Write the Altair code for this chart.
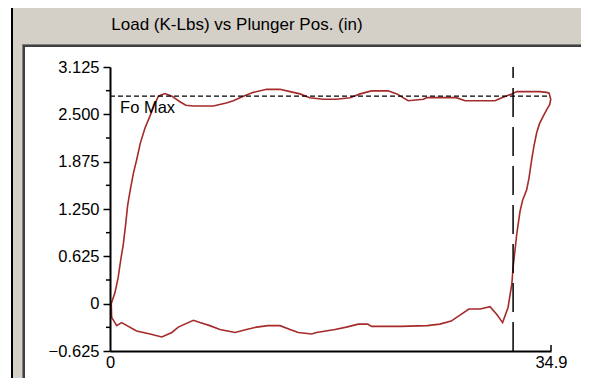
import altair as alt
import pandas as pd

# ---- data ----
title_text = ["Load (K-Lbs) vs Plunger Pos. (in)"]
pos = [0.10, 0.40, 0.65, 0.85, 1.05, 1.22, 1.40, 1.60, 1.85, 2.11, 2.40, 2.77, 3.17, 3.50,
       3.83, 4.35, 4.90, 5.50, 6.00, 6.60, 7.12, 8.18, 9.20, 9.76, 10.55, 11.34, 12.40,
       13.45, 14.25, 15.04, 15.80, 16.90, 17.90, 19.00, 19.80, 20.70, 21.40, 22.00, 22.70,
       23.60, 24.80, 25.06, 27.40, 28.10, 30.47, 31.00, 31.80, 32.20, 34.00, 34.55, 34.75,
       34.88, 34.80, 34.55, 34.30, 34.00, 33.77, 33.55, 33.37, 33.15, 32.97, 32.66, 32.45,
       32.20, 31.90, 31.80, 31.50, 31.07, 30.60, 30.07, 29.30, 28.40, 27.00, 26.10, 25.10,
       23.00, 20.70, 20.40, 19.65, 18.70, 17.80, 16.35, 15.96, 14.90, 14.25, 13.45, 12.50,
       11.60, 10.80, 9.90, 8.70, 7.90, 7.12, 6.60, 5.40, 4.90, 4.10, 3.17, 2.10, 0.92,
       0.53, 0.13, 0.10]
load = [0.00, 0.15, 0.35, 0.58, 0.78, 1.02, 1.30, 1.50, 1.72, 1.90, 2.12, 2.32, 2.48, 2.62,
        2.74, 2.775, 2.74, 2.67, 2.62, 2.61, 2.61, 2.61, 2.65, 2.68, 2.74, 2.79, 2.83,
        2.83, 2.80, 2.77, 2.72, 2.70, 2.70, 2.72, 2.77, 2.81, 2.81, 2.81, 2.77,
        2.68, 2.70, 2.72, 2.72, 2.68, 2.68, 2.72, 2.77, 2.80, 2.80, 2.79, 2.78,
        2.70, 2.63, 2.56, 2.48, 2.38, 2.26, 2.08, 1.90, 1.65, 1.50, 1.37, 1.22,
        0.93, 0.48, 0.26, -0.05, -0.25, -0.14, -0.04, -0.07, -0.07, -0.23, -0.27, -0.29,
        -0.30, -0.30, -0.27, -0.27, -0.31, -0.34, -0.38, -0.40, -0.38, -0.34, -0.29, -0.29,
        -0.31, -0.34, -0.38, -0.34, -0.29, -0.25, -0.22, -0.31, -0.38, -0.44, -0.40, -0.36, -0.25,
        -0.29, -0.18, 0.00]
fo_max = [2.74]
fo_max_end = [34.7]
marker_pos = [31.9]
y_major = [-0.625, 0, 0.625, 1.25, 1.875, 2.5, 3.125]
y_minor = [-0.3125, 0.3125, 0.9375, 1.5625, 2.1875, 2.8125]
x_ticks = [0, 34.9]
x_domain = [0, 34.9]
y_domain = [-0.625, 3.125]

W, H = 441, 284
FONT = "Liberation Sans"
FS = 16.5
RED = "#A52A2A"

curve_df = pd.DataFrame({"pos": pos, "load": load, "i": range(len(pos))})
one = pd.DataFrame({"k": [0]})

xs = alt.Scale(domain=x_domain, nice=False, zero=False)
ys = alt.Scale(domain=y_domain, nice=False, zero=False)

def box(color, x0, x1, y0, y1):
    return alt.Chart(one).mark_rect(color=color).encode(
        x=alt.value(x0), x2=alt.value(x1), y=alt.value(y0), y2=alt.value(y1))

R = 471
frame = [
    box("#000000", -99, R, -59, 320),
    box("#D4D0C8", -97, R, -59, 320),
    box("#808080", -88, R, -23, 313),
    box("#404040", -87, R, -22, 313),
    box("#FFFFFF", -85, R + 30, -20, 313),
    box("#E8E8E8", -88, R, 313, 315),
]

title = alt.Chart(pd.DataFrame({"t": title_text})).mark_text(
    font=FONT, fontSize=17, align="center", baseline="alphabetic", color="#000000"
).encode(x=alt.value(127), y=alt.value(-37), text="t:N")

curve = alt.Chart(curve_df).mark_line(color=RED, strokeWidth=1.6).encode(
    x=alt.X("pos:Q", scale=xs,
            axis=alt.Axis(values=x_ticks, title=None, grid=False, ticks=False,
                          labelExpr="datum.value == 0 ? '0' : format(datum.value, '.1f')",
                          labelFont=FONT, labelFontSize=FS, labelColor="#000000",
                          labelPadding=3, labelFlush=False, domainColor="#000000",
                          domainWidth=2, zindex=1)),
    y=alt.Y("load:Q", scale=ys,
            axis=alt.Axis(values=y_major, title=None, grid=False, tickSize=7,
                          tickColor="#000000", tickWidth=1.5,
                          labelExpr="datum.value == 0 ? '0' : format(datum.value, '.3f')",
                          labelFont=FONT, labelFontSize=FS, labelColor="#000000",
                          labelPadding=4, domainColor="#000000", domainWidth=2, zindex=1)),
    order="i:Q",
)

minor = alt.Chart(pd.DataFrame({"v": y_minor})).mark_rule(color="#000000", strokeWidth=1.5).encode(
    y=alt.Y("v:Q", scale=ys), x=alt.value(-4), x2=alt.value(0))

xtick = alt.Chart(pd.DataFrame({"p": [x_ticks[1]]})).mark_rule(color="#000000", strokeWidth=1.5).encode(
    x=alt.X("p:Q", scale=xs), y=alt.value(H - 6), y2=alt.value(H))

fo_df = pd.DataFrame({"y": fo_max, "x0": [x_domain[0]], "x1": fo_max_end})
fo_line = alt.Chart(fo_df).mark_rule(color="#000000", strokeWidth=1.2, strokeDash=[5, 3]).encode(
    y=alt.Y("y:Q", scale=ys), x=alt.X("x0:Q", scale=xs), x2="x1:Q")
fo_text = alt.Chart(pd.DataFrame({"y": fo_max, "x": [0.8], "t": ["Fo Max"]})).mark_text(
    font=FONT, fontSize=FS, align="left", baseline="top", dy=4, color="#000000"
).encode(x=alt.X("x:Q", scale=xs), y=alt.Y("y:Q", scale=ys), text="t:N")

vline = alt.Chart(pd.DataFrame({"x": marker_pos})).mark_rule(
    color="#000000", strokeWidth=1.5, strokeDash=[29, 10]).encode(
    x=alt.X("x:Q", scale=xs), y=alt.value(H), y2=alt.value(0))

chart = alt.layer(*frame, title, curve, minor, xtick, fo_line, fo_text, vline).properties(
    width=W, height=H,
    autosize=alt.AutoSizeParams(type="none"),
    padding={"left": 102, "top": 59, "right": 30, "bottom": 27},
    background="#FFFFFF",
).configure_view(stroke=None)

chart.save("out.html", embed_options={"renderer": "svg", "actions": False})
